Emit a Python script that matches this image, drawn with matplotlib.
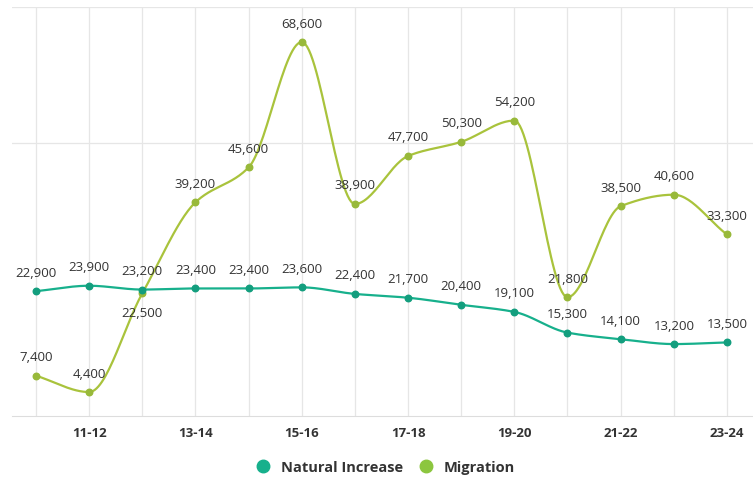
import numpy as np
import matplotlib
matplotlib.use("Agg")
import matplotlib.pyplot as plt
from matplotlib.lines import Line2D

years = ["10-11", "11-12", "12-13", "13-14", "14-15", "15-16", "16-17",
         "17-18", "18-19", "19-20", "20-21", "21-22", "22-23", "23-24"]
natural = [22900, 23900, 23200, 23400, 23400, 23600, 22400,
           21700, 20400, 19100, 15300, 14100, 13200, 13500]
migration = [7400, 4400, 22500, 39200, 45600, 68600, 38900,
             47700, 50300, 54200, 21800, 38500, 40600, 33300]
# data label placement: +1 above the point, -1 below
mig_side = [1, 1, -1, 1, 1, 1, 1, 1, 1, 1, 1, 1, 1, 1]

teal = "#17b08c"
green = "#a9c33c"
text_col = "#333333"

plt.rcParams['font.family'] = ['Open Sans', 'DejaVu Sans']


def monotone(x, y, n=30):
	# monotone cubic (Fritsch-Carlson) for a smooth line through the points
	x = np.asarray(x, float)
	y = np.asarray(y, float)
	h = np.diff(x)
	d = np.diff(y) / h
	m = np.zeros_like(y)
	m[0], m[-1] = d[0], d[-1]
	for i in range(1, len(y) - 1):
		if d[i - 1] * d[i] <= 0:
			m[i] = 0
		else:
			m[i] = 3 * (h[i - 1] + h[i]) / ((2 * h[i] + h[i - 1]) / d[i - 1] + (h[i] + 2 * h[i - 1]) / d[i])
	xs, ys = [], []
	for i in range(len(x) - 1):
		t = np.linspace(0, 1, n)
		h00 = 2 * t**3 - 3 * t**2 + 1
		h10 = t**3 - 2 * t**2 + t
		h01 = -2 * t**3 + 3 * t**2
		h11 = t**3 - t**2
		xs.append(x[i] + t * h[i])
		ys.append(h00 * y[i] + h10 * h[i] * m[i] + h01 * y[i + 1] + h11 * h[i] * m[i + 1])
	return np.concatenate(xs), np.concatenate(ys)


fig = plt.figure(figsize=(7.53, 4.81), dpi=100)
ax = fig.add_axes([0.016, 0.133, 0.984, 0.85])

x = np.arange(len(years))

sx, sy = monotone(x, migration)
ax.plot(sx, sy, color=green, lw=1.6, zorder=3)
ax.scatter(x, migration, s=22, color="#98b93a", zorder=4)

sx, sy = monotone(x, natural)
ax.plot(sx, sy, color=teal, lw=1.6, zorder=3)
ax.scatter(x, natural, s=22, color="#139e7e", zorder=4)

for i in range(len(x)):
	ax.annotate(f"{natural[i]:,}", (x[i], natural[i]), xytext=(0, 9),
				textcoords="offset points", ha="center", va="bottom",
				fontsize=9.5, color=text_col, zorder=5)
	off = 9 if mig_side[i] > 0 else -9
	ax.annotate(f"{migration[i]:,}", (x[i], migration[i]), xytext=(0, off),
				textcoords="offset points", ha="center",
				va="bottom" if mig_side[i] > 0 else "top",
				fontsize=9.5, color=text_col, zorder=5)

ax.set_xlim(-0.45, 13.49)
ax.set_ylim(0, 75000)
ax.set_yticks([50000, 75000])
ax.set_xticks(x)
ax.grid(True, color="#e6e6e6", lw=0.9, zorder=0)
ax.set_axisbelow(True)
ax.tick_params(axis="y", left=False, labelleft=False)
ax.tick_params(axis="x", length=0, pad=7, labelsize=9.5, labelcolor=text_col)
ax.set_xticklabels([y if i % 2 == 1 else "" for i, y in enumerate(years)], fontweight="bold")
for s in ["top", "right", "left"]:
	ax.spines[s].set_visible(False)
ax.spines["bottom"].set_color("#dddddd")

handles = [Line2D([], [], ls="", marker="o", ms=9, color=teal, label="Natural Increase"),
		   Line2D([], [], ls="", marker="o", ms=9, color="#8cc63f", label="Migration")]
fig.legend(handles=handles, loc="center", bbox_to_anchor=(0.507, 0.027), ncol=2,
		   frameon=False, handletextpad=0.2, columnspacing=0.6,
		   prop={"weight": "bold", "size": 10.5})
for t in fig.legends[0].get_texts():
	t.set_color(text_col)

fig.savefig("out.png", dpi=100)
